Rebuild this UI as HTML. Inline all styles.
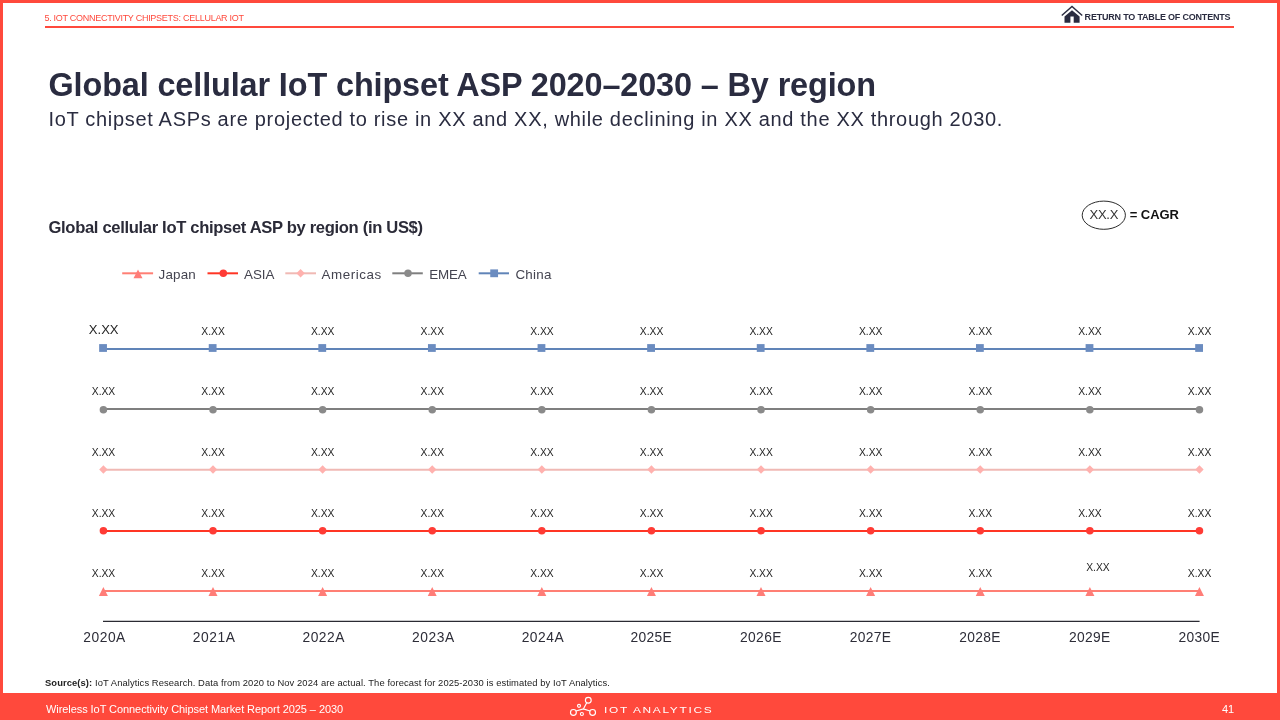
<!DOCTYPE html>
<html lang="en"><head><meta charset="utf-8"><title>Global cellular IoT chipset ASP 2020–2030 – By region</title>
<style>
html,body{margin:0;padding:0;}
body{width:1280px;height:720px;overflow:hidden;background:#FF493C;font-family:"Liberation Sans",sans-serif;position:relative;}
.page{position:absolute;left:3px;top:3px;width:1274px;height:690px;background:#fff;}
.abs{position:absolute;white-space:nowrap;line-height:1;}
.crumb{left:44.40px;top:13.50px;font-size:9.00px;letter-spacing:-0.270px;color:#FF493C;}
.hline{position:absolute;left:45px;top:25.7px;width:1189px;height:2.1px;background:#FF493C;}
.toc{left:1084.60px;top:13.25px;font-size:9.00px;letter-spacing:-0.201px;font-weight:bold;color:#2A2C40;}
.home{position:absolute;left:1056px;top:2px;}
h1{margin:0;left:48.50px;top:68.50px;font-size:32.40px;letter-spacing:-0.115px;font-weight:bold;color:#2A2C40;}
.sub{left:48.50px;top:109.25px;font-size:20.00px;letter-spacing:0.684px;color:#2A2C40;}
.ctitle{left:48.50px;top:220.00px;font-size:16.60px;letter-spacing:-0.335px;font-weight:bold;color:#2b2b38;}
.cagr1{left:1089.50px;top:208.30px;font-size:13.00px;letter-spacing:-0.267px;color:#333;}
.cagr2{left:1129.80px;top:208.30px;font-size:13.00px;letter-spacing:-0.080px;font-weight:bold;color:#111;}
.src{left:45.00px;top:677.50px;font-size:9.40px;letter-spacing:0.092px;color:#222;}
.foot1{left:46.00px;top:704.00px;font-size:11.00px;letter-spacing:-0.070px;color:#fff;}
.pageno{left:1222.00px;top:704.00px;font-size:11.00px;letter-spacing:0.000px;color:#fff;}
.brand{left:604.00px;top:706.10px;font-size:9.00px;letter-spacing:1.275px;color:#fff;transform:scaleX(1.32);transform-origin:0 50%;}
.logo{position:absolute;left:564px;top:694px;}
svg.chart{position:absolute;left:0;top:0;}
svg text{font-family:"Liberation Sans",sans-serif;}
.dl text{font-size:10.3px;fill:#262626;text-anchor:middle;}
.dl text.big{font-size:13.1px;}
.axt{color:#2d2d38;}
.lgt{color:#444450;}
.lg0{left:158.50px;top:267.90px;font-size:13.40px;letter-spacing:0.200px;}
.lg1{left:244.00px;top:267.90px;font-size:13.40px;letter-spacing:0.000px;}
.lg2{left:321.60px;top:267.90px;font-size:13.40px;letter-spacing:0.543px;}
.lg3{left:429.20px;top:267.90px;font-size:13.40px;letter-spacing:-0.133px;}
.lg4{left:515.40px;top:267.90px;font-size:13.40px;letter-spacing:0.275px;}

</style></head>
<body>
<div class="page"></div>
<div class="abs crumb">5. IOT CONNECTIVITY CHIPSETS: CELLULAR IOT</div>
<div class="hline"></div>
<svg class="home" width="40" height="25" viewBox="0 0 40 25"><path d="M6.3 13 L16 4.5 L25.7 13" fill="none" stroke="#2A2C40" stroke-width="1.4" stroke-linecap="square"/><path d="M16 8.2 L23.6 14.6 V20.8 H17.7 V14.6 H14.4 V20.8 H8.5 V14.6 Z" fill="#2A2C40"/></svg>
<div class="abs toc">RETURN TO TABLE OF CONTENTS</div>
<h1 class="abs">Global cellular IoT chipset ASP 2020–2030 – By region</h1>
<div class="abs sub">IoT chipset ASPs are projected to rise in XX and XX, while declining in XX and the XX through 2030.</div>
<div class="abs ctitle">Global cellular IoT chipset ASP by region (in US$)</div>
<svg class="chart" width="1280" height="720" viewBox="0 0 1280 720">
<line x1="103" y1="621.4" x2="1199.6" y2="621.4" stroke="#2b2b33" stroke-width="1.3"/>
<g><line x1="103.40" y1="348.95" x2="1199.45" y2="348.95" stroke="#6084B8" stroke-width="2.1"/>
<rect x="99.15" y="344.10" width="7.8" height="7.8" fill="#6B8CC0"/>
<rect x="208.75" y="344.10" width="7.8" height="7.8" fill="#6B8CC0"/>
<rect x="318.36" y="344.10" width="7.8" height="7.8" fill="#6B8CC0"/>
<rect x="427.97" y="344.10" width="7.8" height="7.8" fill="#6B8CC0"/>
<rect x="537.57" y="344.10" width="7.8" height="7.8" fill="#6B8CC0"/>
<rect x="647.17" y="344.10" width="7.8" height="7.8" fill="#6B8CC0"/>
<rect x="756.78" y="344.10" width="7.8" height="7.8" fill="#6B8CC0"/>
<rect x="866.38" y="344.10" width="7.8" height="7.8" fill="#6B8CC0"/>
<rect x="975.99" y="344.10" width="7.8" height="7.8" fill="#6B8CC0"/>
<rect x="1085.60" y="344.10" width="7.8" height="7.8" fill="#6B8CC0"/>
<rect x="1195.20" y="344.10" width="7.8" height="7.8" fill="#6B8CC0"/>
</g>
<g class="dl">
<text class="big" x="103.70" y="333.50">X.XX</text>
<text x="213.10" y="335.00">X.XX</text>
<text x="322.71" y="335.00">X.XX</text>
<text x="432.32" y="335.00">X.XX</text>
<text x="541.92" y="335.00">X.XX</text>
<text x="651.52" y="335.00">X.XX</text>
<text x="761.13" y="335.00">X.XX</text>
<text x="870.74" y="335.00">X.XX</text>
<text x="980.34" y="335.00">X.XX</text>
<text x="1089.94" y="335.00">X.XX</text>
<text x="1199.55" y="335.00">X.XX</text>
</g>
<g><line x1="103.40" y1="408.95" x2="1199.45" y2="408.95" stroke="#7F7F7F" stroke-width="2.1"/>
<circle cx="103.40" cy="409.70" r="3.75" fill="#8A8A8A"/>
<circle cx="213.00" cy="409.70" r="3.75" fill="#8A8A8A"/>
<circle cx="322.61" cy="409.70" r="3.75" fill="#8A8A8A"/>
<circle cx="432.22" cy="409.70" r="3.75" fill="#8A8A8A"/>
<circle cx="541.82" cy="409.70" r="3.75" fill="#8A8A8A"/>
<circle cx="651.42" cy="409.70" r="3.75" fill="#8A8A8A"/>
<circle cx="761.03" cy="409.70" r="3.75" fill="#8A8A8A"/>
<circle cx="870.63" cy="409.70" r="3.75" fill="#8A8A8A"/>
<circle cx="980.24" cy="409.70" r="3.75" fill="#8A8A8A"/>
<circle cx="1089.85" cy="409.70" r="3.75" fill="#8A8A8A"/>
<circle cx="1199.45" cy="409.70" r="3.75" fill="#8A8A8A"/>
</g>
<g class="dl">
<text x="103.50" y="395.20">X.XX</text>
<text x="213.10" y="395.20">X.XX</text>
<text x="322.71" y="395.20">X.XX</text>
<text x="432.32" y="395.20">X.XX</text>
<text x="541.92" y="395.20">X.XX</text>
<text x="651.52" y="395.20">X.XX</text>
<text x="761.13" y="395.20">X.XX</text>
<text x="870.74" y="395.20">X.XX</text>
<text x="980.34" y="395.20">X.XX</text>
<text x="1089.94" y="395.20">X.XX</text>
<text x="1199.55" y="395.20">X.XX</text>
</g>
<g><line x1="103.40" y1="469.8" x2="1199.45" y2="469.8" stroke="#F0B9B4" stroke-width="2.1"/>
<path d="M99.20 469.50 L103.40 465.30 L107.60 469.50 L103.40 473.70 Z" fill="#FFB1AE"/>
<path d="M208.81 469.50 L213.00 465.30 L217.20 469.50 L213.00 473.70 Z" fill="#FFB1AE"/>
<path d="M318.41 469.50 L322.61 465.30 L326.81 469.50 L322.61 473.70 Z" fill="#FFB1AE"/>
<path d="M428.02 469.50 L432.22 465.30 L436.42 469.50 L432.22 473.70 Z" fill="#FFB1AE"/>
<path d="M537.62 469.50 L541.82 465.30 L546.02 469.50 L541.82 473.70 Z" fill="#FFB1AE"/>
<path d="M647.22 469.50 L651.42 465.30 L655.62 469.50 L651.42 473.70 Z" fill="#FFB1AE"/>
<path d="M756.83 469.50 L761.03 465.30 L765.23 469.50 L761.03 473.70 Z" fill="#FFB1AE"/>
<path d="M866.43 469.50 L870.63 465.30 L874.84 469.50 L870.63 473.70 Z" fill="#FFB1AE"/>
<path d="M976.04 469.50 L980.24 465.30 L984.44 469.50 L980.24 473.70 Z" fill="#FFB1AE"/>
<path d="M1085.64 469.50 L1089.85 465.30 L1094.05 469.50 L1089.85 473.70 Z" fill="#FFB1AE"/>
<path d="M1195.25 469.50 L1199.45 465.30 L1203.65 469.50 L1199.45 473.70 Z" fill="#FFB1AE"/>
</g>
<g class="dl">
<text x="103.50" y="456.00">X.XX</text>
<text x="213.10" y="456.00">X.XX</text>
<text x="322.71" y="456.00">X.XX</text>
<text x="432.32" y="456.00">X.XX</text>
<text x="541.92" y="456.00">X.XX</text>
<text x="651.52" y="456.00">X.XX</text>
<text x="761.13" y="456.00">X.XX</text>
<text x="870.74" y="456.00">X.XX</text>
<text x="980.34" y="456.00">X.XX</text>
<text x="1089.94" y="456.00">X.XX</text>
<text x="1199.55" y="456.00">X.XX</text>
</g>
<g><line x1="103.40" y1="530.95" x2="1199.45" y2="530.95" stroke="#FF3524" stroke-width="2.1"/>
<circle cx="103.40" cy="530.70" r="3.75" fill="#FF3B35"/>
<circle cx="213.00" cy="530.70" r="3.75" fill="#FF3B35"/>
<circle cx="322.61" cy="530.70" r="3.75" fill="#FF3B35"/>
<circle cx="432.22" cy="530.70" r="3.75" fill="#FF3B35"/>
<circle cx="541.82" cy="530.70" r="3.75" fill="#FF3B35"/>
<circle cx="651.42" cy="530.70" r="3.75" fill="#FF3B35"/>
<circle cx="761.03" cy="530.70" r="3.75" fill="#FF3B35"/>
<circle cx="870.63" cy="530.70" r="3.75" fill="#FF3B35"/>
<circle cx="980.24" cy="530.70" r="3.75" fill="#FF3B35"/>
<circle cx="1089.85" cy="530.70" r="3.75" fill="#FF3B35"/>
<circle cx="1199.45" cy="530.70" r="3.75" fill="#FF3B35"/>
</g>
<g class="dl">
<text x="103.50" y="516.90">X.XX</text>
<text x="213.10" y="516.90">X.XX</text>
<text x="322.71" y="516.90">X.XX</text>
<text x="432.32" y="516.90">X.XX</text>
<text x="541.92" y="516.90">X.XX</text>
<text x="651.52" y="516.90">X.XX</text>
<text x="761.13" y="516.90">X.XX</text>
<text x="870.74" y="516.90">X.XX</text>
<text x="980.34" y="516.90">X.XX</text>
<text x="1089.94" y="516.90">X.XX</text>
<text x="1199.55" y="516.90">X.XX</text>
</g>
<g><line x1="103.40" y1="591.0" x2="1199.45" y2="591.0" stroke="#FF7F74" stroke-width="2.1"/>
<path d="M98.90 595.90 L103.40 587.10 L107.90 595.90 Z" fill="#FF7D78"/>
<path d="M208.50 595.90 L213.00 587.10 L217.50 595.90 Z" fill="#FF7D78"/>
<path d="M318.11 595.90 L322.61 587.10 L327.11 595.90 Z" fill="#FF7D78"/>
<path d="M427.72 595.90 L432.22 587.10 L436.72 595.90 Z" fill="#FF7D78"/>
<path d="M537.32 595.90 L541.82 587.10 L546.32 595.90 Z" fill="#FF7D78"/>
<path d="M646.92 595.90 L651.42 587.10 L655.92 595.90 Z" fill="#FF7D78"/>
<path d="M756.53 595.90 L761.03 587.10 L765.53 595.90 Z" fill="#FF7D78"/>
<path d="M866.13 595.90 L870.63 587.10 L875.13 595.90 Z" fill="#FF7D78"/>
<path d="M975.74 595.90 L980.24 587.10 L984.74 595.90 Z" fill="#FF7D78"/>
<path d="M1085.35 595.90 L1089.85 587.10 L1094.35 595.90 Z" fill="#FF7D78"/>
<path d="M1194.95 595.90 L1199.45 587.10 L1203.95 595.90 Z" fill="#FF7D78"/>
</g>
<g class="dl">
<text x="103.50" y="577.00">X.XX</text>
<text x="213.10" y="577.00">X.XX</text>
<text x="322.71" y="577.00">X.XX</text>
<text x="432.32" y="577.00">X.XX</text>
<text x="541.92" y="577.00">X.XX</text>
<text x="651.52" y="577.00">X.XX</text>
<text x="761.13" y="577.00">X.XX</text>
<text x="870.74" y="577.00">X.XX</text>
<text x="980.34" y="577.00">X.XX</text>
<text x="1097.94" y="571.00">X.XX</text>
<text x="1199.55" y="577.00">X.XX</text>
</g>
<g class="lg">
<line x1="122.2" y1="273.3" x2="153.1" y2="273.3" stroke="#FF7F74" stroke-width="2"/>
<path d="M133.50 278.20 L138.00 269.40 L142.50 278.20 Z" fill="#FF7D78"/>
<line x1="207.5" y1="273.3" x2="238" y2="273.3" stroke="#FF3524" stroke-width="2"/>
<circle cx="223.30" cy="273.30" r="3.75" fill="#FF3B35"/>
<line x1="285.3" y1="273.3" x2="316" y2="273.3" stroke="#F0B9B4" stroke-width="2"/>
<path d="M296.40 273.30 L300.60 269.10 L304.80 273.30 L300.60 277.50 Z" fill="#FFB1AE"/>
<line x1="392.3" y1="273.3" x2="422.8" y2="273.3" stroke="#7F7F7F" stroke-width="2"/>
<circle cx="408.00" cy="273.30" r="3.75" fill="#8A8A8A"/>
<line x1="478.7" y1="273.3" x2="509" y2="273.3" stroke="#6084B8" stroke-width="2"/>
<rect x="490.25" y="269.40" width="7.8" height="7.8" fill="#6B8CC0"/>
</g>
<ellipse cx="1103.8" cy="215.2" rx="21.6" ry="14.1" fill="#fff" stroke="#2b2b2b" stroke-width="1"/>
</svg>
<div class="abs lgt lg0">Japan</div>
<div class="abs lgt lg1">ASIA</div>
<div class="abs lgt lg2">Americas</div>
<div class="abs lgt lg3">EMEA</div>
<div class="abs lgt lg4">China</div>
<div class="abs axt ax0" style="left:83.25px;top:631.30px;font-size:13.80px;letter-spacing:0.537px">2020A</div>
<div class="abs axt" style="left:192.85px;top:631.30px;font-size:13.80px;letter-spacing:0.537px">2021A</div>
<div class="abs axt" style="left:302.46px;top:631.30px;font-size:13.80px;letter-spacing:0.537px">2022A</div>
<div class="abs axt" style="left:412.07px;top:631.30px;font-size:13.80px;letter-spacing:0.537px">2023A</div>
<div class="abs axt" style="left:521.67px;top:631.30px;font-size:13.80px;letter-spacing:0.537px">2024A</div>
<div class="abs axt" style="left:630.47px;top:631.30px;font-size:13.80px;letter-spacing:0.350px">2025E</div>
<div class="abs axt" style="left:740.08px;top:631.30px;font-size:13.80px;letter-spacing:0.350px">2026E</div>
<div class="abs axt" style="left:849.68px;top:631.30px;font-size:13.80px;letter-spacing:0.350px">2027E</div>
<div class="abs axt" style="left:959.29px;top:631.30px;font-size:13.80px;letter-spacing:0.350px">2028E</div>
<div class="abs axt" style="left:1068.89px;top:631.30px;font-size:13.80px;letter-spacing:0.350px">2029E</div>
<div class="abs axt ax10" style="left:1178.50px;top:631.30px;font-size:13.80px;letter-spacing:0.350px">2030E</div>
<div class="abs cagr1">XX.X</div>
<div class="abs cagr2">= CAGR</div>
<div class="abs src"><b>Source(s):</b> IoT Analytics Research. Data from 2020 to Nov 2024 are actual. The forecast for 2025-2030 is estimated by IoT Analytics.</div>
<div class="abs foot1">Wireless IoT Connectivity Chipset Market Report 2025 – 2030</div>
<svg class="logo" width="40" height="25" viewBox="0 0 40 25"><g fill="none" stroke="#fff" stroke-width="1.15"><circle cx="24.3" cy="6.25" r="2.9"/><circle cx="9.4" cy="18.4" r="2.9"/><circle cx="28.6" cy="18.4" r="2.9"/><circle cx="15" cy="11.8" r="1.5"/><circle cx="17.9" cy="20" r="1.5"/><path d="M22.7 8.7 L19.4 14.9 M12 17 L19.4 14.9 L26 17"/></g></svg>
<div class="abs brand">IOT ANALYTICS</div>
<div class="abs pageno">41</div>
</body></html>
